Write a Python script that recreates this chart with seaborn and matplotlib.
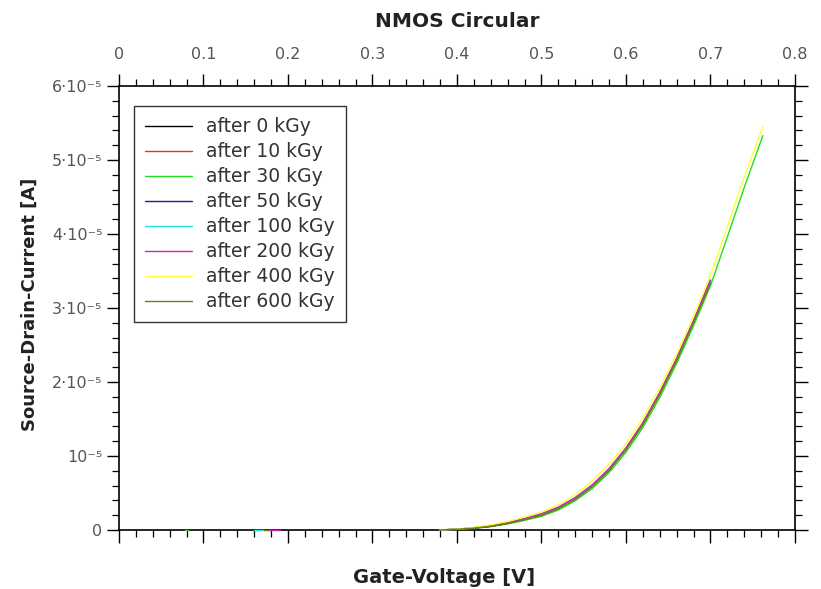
import numpy as np
import pandas as pd
import matplotlib
matplotlib.use("Agg")
import matplotlib.pyplot as plt
from matplotlib.ticker import MultipleLocator, FuncFormatter
import seaborn as sns

# Gate-voltage sweep points [V]
V_MAIN = [0.38, 0.40, 0.42, 0.44, 0.46, 0.48, 0.50, 0.52, 0.54, 0.56,
          0.58, 0.60, 0.62, 0.64, 0.66, 0.68, 0.70]
V_LONG = V_MAIN + [0.72, 0.74, 0.762]

# Source-drain current per irradiation step [uA]
I_0KGY = [0.0, 0.1, 0.25, 0.5, 0.9, 1.4, 2.0, 2.9, 4.2, 5.9, 8.1, 10.9, 14.3, 18.4, 23.0, 28.1, 33.6]
I_10KGY = [0.0, 0.1, 0.3, 0.55, 0.95, 1.5, 2.1, 3.0, 4.3, 6.0, 8.2, 11.0, 14.4, 18.5, 23.1, 28.2, 33.4]
I_30KGY = [0.0, 0.07, 0.22, 0.45, 0.82, 1.3, 1.85, 2.7, 3.95, 5.6, 7.75, 10.5, 13.85, 17.9, 22.5, 27.6, 33.0,
           39.6, 46.3, 53.3]
I_50KGY = [0.0, 0.1, 0.25, 0.5, 0.9, 1.45, 2.05, 2.95, 4.25, 5.95, 8.15, 10.95, 14.35, 18.45, 23.05, 28.15, 33.7]
I_100KGY = [0.0, 0.1, 0.3, 0.55, 0.95, 1.5, 2.1, 3.0, 4.3, 6.0, 8.2, 11.0, 14.4, 18.5, 23.1, 28.2, 33.5]
I_200KGY = [0.0, 0.1, 0.3, 0.6, 1.0, 1.55, 2.2, 3.1, 4.4, 6.1, 8.3, 11.1, 14.5, 18.6, 23.2, 28.3, 33.8]
I_400KGY = [0.0, 0.15, 0.35, 0.7, 1.15, 1.75, 2.45, 3.4, 4.8, 6.6, 8.9, 11.7, 15.1, 19.2, 23.8, 28.9, 34.4,
            41.0, 47.7, 54.5]
I_600KGY = [0.0, 0.1, 0.25, 0.5, 0.9, 1.4, 2.0, 2.9, 4.15, 5.85, 8.05, 10.85, 14.25, 18.35, 22.95, 28.05, 33.3]

# Short off-state fragments recorded at low gate voltage [V], current [uA]
V_LOW_30KGY = [0.078, 0.082]
V_LOW_100KGY = [0.160, 0.172]
V_LOW_200KGY = [0.178, 0.190]
V_LOW_600KGY = [0.172, 0.178]
I_LOW = [0.0, 0.0]

DOSES = ["after 0 kGy", "after 10 kGy", "after 30 kGy", "after 50 kGy",
         "after 100 kGy", "after 200 kGy", "after 400 kGy", "after 600 kGy"]
COLORS = ["#000000", "#e8302f", "#22dd22", "#1c1c9c",
          "#22e6e6", "#cc22cc", "#ffff33", "#7a7a10"]

segments = [
    (DOSES[0], V_MAIN, I_0KGY),
    (DOSES[1], V_MAIN, I_10KGY),
    (DOSES[2], V_LONG, I_30KGY),
    (DOSES[2], V_LOW_30KGY, I_LOW),
    (DOSES[3], V_MAIN, I_50KGY),
    (DOSES[4], V_MAIN, I_100KGY),
    (DOSES[4], V_LOW_100KGY, I_LOW),
    (DOSES[5], V_MAIN, I_200KGY),
    (DOSES[5], V_LOW_200KGY, I_LOW),
    (DOSES[6], V_LONG, I_400KGY),
    (DOSES[7], V_MAIN, I_600KGY),
    (DOSES[7], V_LOW_600KGY, I_LOW),
]

frames = []
for seg_id, (dose, v, i) in enumerate(segments):
    frames.append(pd.DataFrame({
        "Gate-Voltage": v,
        "Current": np.asarray(i) * 1e-6,
        "Dose": dose,
        "Segment": seg_id,
    }))
df = pd.concat(frames, ignore_index=True)

sns.set_theme(style="ticks")
plt.rcParams["font.family"] = ["DejaVu Sans"]

fig = plt.figure(figsize=(8.21, 5.89), dpi=100)
ax = fig.add_axes([0.1449, 0.1002, 0.8234, 0.7538])

sns.lineplot(data=df, x="Gate-Voltage", y="Current", hue="Dose", units="Segment",
             estimator=None, sort=False, hue_order=DOSES, palette=COLORS,
             linewidth=1.0, ax=ax, legend=True)

# draw the curves above the frame so the zero-current parts stay visible
for line in ax.lines:
    line.set_zorder(3)
    line.set_clip_on(False)

ax.set_xlim(0, 0.8)
ax.set_ylim(0, 6e-5)

ax.xaxis.set_major_locator(MultipleLocator(0.1))
ax.xaxis.set_minor_locator(MultipleLocator(0.02))
ax.yaxis.set_major_locator(MultipleLocator(1e-5))
ax.yaxis.set_minor_locator(MultipleLocator(2e-6))


def current_label(val, pos):
    k = int(round(val / 1e-5))
    if k == 0:
        return "0"
    if k == 1:
        return "10\u207b\u2075"
    return f"{k}\u00b710\u207b\u2075"


ax.yaxis.set_major_formatter(FuncFormatter(current_label))
ax.xaxis.set_major_formatter(FuncFormatter(lambda v, p: "0" if abs(v) < 1e-9 else f"{v:g}"))

for side in ["left", "right", "top", "bottom"]:
    ax.spines[side].set_visible(True)
    ax.spines[side].set_linewidth(1.2)
    ax.spines[side].set_color("black")

ax.tick_params(axis="both", which="both", direction="out", color="black",
               top=True, bottom=True, left=True, right=True,
               labeltop=True, labelbottom=False, labelleft=True, labelright=False)
ax.tick_params(which="major", length=9, width=1.0, labelsize=11.5, labelcolor="#555555")
ax.tick_params(which="minor", length=5, width=0.9)
ax.tick_params(axis="x", which="major", pad=8)
ax.tick_params(axis="y", which="major", pad=3)

ax.set_xlabel("Gate-Voltage [V]", fontsize=14, fontweight="bold", color="#222222")
ax.set_ylabel("Source-Drain-Current [A]", fontsize=13, fontweight="bold", color="#222222")
ax.xaxis.set_label_position("bottom")
ax.xaxis.set_label_coords(0.481, -0.106)
ax.xaxis.label.set_va("center")
ax.yaxis.set_label_coords(-0.1317, 0.508)
ax.yaxis.label.set_va("center")

fig.text(0.5567, 0.964, "NMOS Circular", ha="center", va="center",
         fontsize=14.5, fontweight="bold", color="#222222")

leg = ax.legend(loc="upper left", bbox_to_anchor=(0.0222, 0.955), frameon=True,
                fancybox=False, fontsize=13.5, handlelength=2.5, handletextpad=0.75,
                labelspacing=0.32, borderpad=0.6, borderaxespad=0.0)
leg.get_frame().set_edgecolor("black")
leg.get_frame().set_linewidth(1.0)
leg.set_zorder(5)
for txt in leg.get_texts():
    txt.set_color("#333333")

fig.savefig("out.png", dpi=100)
